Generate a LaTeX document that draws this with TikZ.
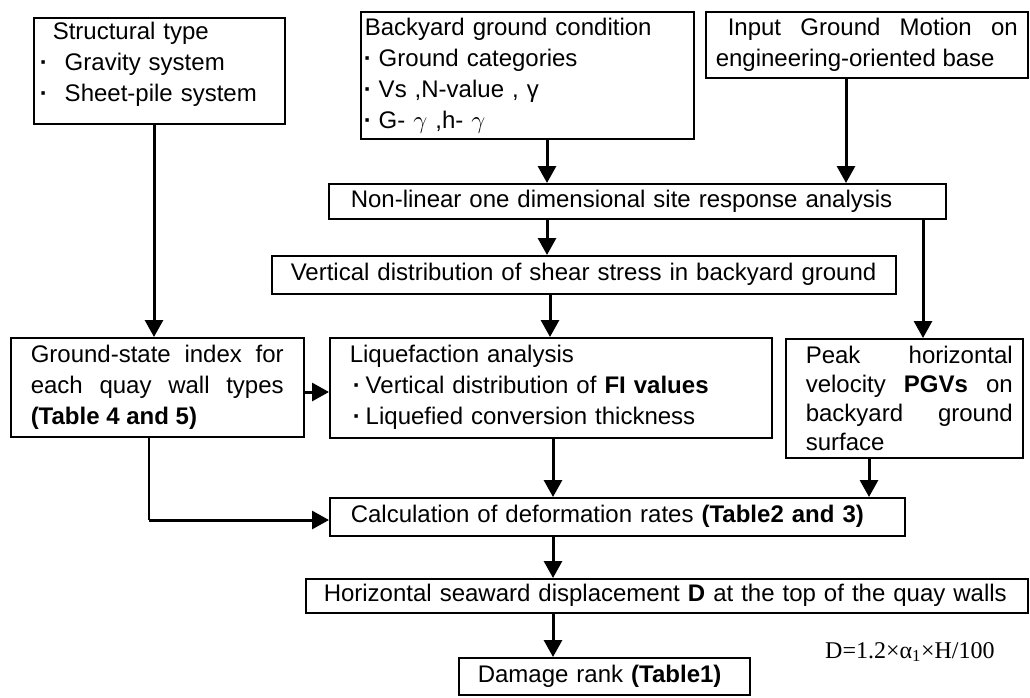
\documentclass[tikz,border=0pt]{standalone}
\usepackage{fontspec}
\setmainfont{Liberation Sans}
\newfontfamily\serif{Liberation Serif}
\usetikzlibrary{arrows.meta}
% bullet: #1 = offset to dot centre, #2 = dot centre to next letter
\newcommand\bul[2]{\hspace*{\dimexpr#1-4pt\relax}{\bfseries ·}\hspace*{\dimexpr#2-4pt\relax}}
\newcommand\justpar{\leftskip=0pt\rightskip=0pt\parfillskip=0pt plus 1fil\relax}
\begin{document}
\begin{tikzpicture}[x=1pt,y=-1pt,
  box/.style={draw, line width=1.5pt, inner sep=0pt, anchor=north west,
    font=\fontsize{24}{31}\selectfont},
  arr/.style={line width=3pt, -{Triangle[length=17pt,width=18pt]}},
  thinline/.style={line width=1.5pt},
  formula/.style={anchor=base west, inner sep=0pt, font=\serif\fontsize{24}{24}\selectfont},
]
\useasboundingbox (0,0) rectangle (1030,697);

% boxes
\node[box, minimum width=251pt, minimum height=106pt, text width=251pt, align=left] (st) at (33,17)
  {\hspace*{19pt}Structural type\\ \bul{10pt}{21pt}Gravity system\\ \bul{10pt}{21pt}Sheet-pile system\rule[-17pt]{0pt}{1pt}};
\node[box, minimum width=333pt, minimum height=127pt, text width=333pt, align=left] (bg) at (360,11)
  {\hspace*{4pt}Backyard ground condition\\ \bul{7pt}{11pt}Ground categories\\ \bul{7pt}{11pt}Vs ,N-value , γ\\ \bul{7pt}{11pt}G- $\gamma$ ,h- $\gamma$};
\node[box, minimum width=322pt, minimum height=66pt, inner xsep=10pt, text width=302pt, align=justify] (ig) at (705,11)
  {\hspace*{12pt}Input Ground Motion on\linebreak engineering-oriented base};
\node[box, minimum width=617pt, minimum height=35pt, inner xsep=22pt, text width=573pt, align=left] (nl) at (328,183)
  {\mbox{Non-linear one dimensional site response analysis}};
\node[box, minimum width=624pt, minimum height=38pt, inner xsep=19pt, text width=586pt, align=left] (vd) at (271,255)
  {\mbox{Vertical distribution of shear stress in backyard ground}};
\node[box, minimum width=293pt, minimum height=99pt, inner xsep=20pt, text width=253pt, align=justify] (gs) at (10,337)
  {Ground-state index for\linebreak each quay wall types\linebreak \textbf{(Table 4 and 5)}};
\node[box, minimum width=442pt, minimum height=100pt, text width=442pt, align=left] (liq) at (329,337)
  {\hspace*{20pt}Liquefaction analysis\\ \bul{27pt}{9pt}Vertical distribution of \textbf{FI values}\\ \bul{27pt}{9pt}Liquefied conversion thickness};
\node[box, minimum width=237pt, minimum height=119pt, text width=237pt, align=justify,
  font=\fontsize{24}{29}\selectfont] (pk) at (785,338)
  {\hspace*{20pt}\parbox[c]{207pt}{\fontsize{24}{29}\selectfont\justpar Peak horizontal\linebreak velocity \textbf{PGVs} on\linebreak backyard ground\linebreak surface}};
\node[box, minimum width=575pt, minimum height=38pt, inner xsep=21pt, text width=533pt, align=left] (calc) at (329,497)
  {\mbox{Calculation of deformation rates \textbf{(Table2 and 3)}}};
\node[box, minimum width=722pt, minimum height=34pt, inner xsep=18pt, text width=686pt, align=left] (hz) at (305,578)
  {\mbox{Horizontal seaward displacement \textbf{D} at the top of the quay walls}};
\node[box, minimum width=291pt, minimum height=37pt, inner xsep=19pt, text width=253pt, align=left] (dmg) at (458,657)
  {\mbox{Damage rank \textbf{(Table1)}}};
\node[formula] (fm) at (825,658) {D=1.2×α\textsubscript{1}×H/100};

% connector columns
\coordinate (c1) at (154,0);
\coordinate (c2) at (547,0);
\coordinate (c3) at (846,0);
\coordinate (c4) at (923,0);
\coordinate (c5) at (550,0);
\coordinate (c6) at (553,0);
\coordinate (c7) at (869,0);
\coordinate (r1) at (0,392);
\coordinate (k) at (149,520);

\draw[arr] (st.south -| c1) -- (gs.north -| c1);
\draw[arr] (bg.south -| c2) -- (nl.north -| c2);
\draw[arr] (ig.south -| c3) -- (nl.north -| c3);
\draw[arr] (nl.south -| c2) -- (vd.north -| c2);
\draw[arr] (nl.south -| c4) -- (pk.north -| c4);
\draw[arr] (vd.south -| c5) -- (liq.north -| c5);
\draw[arr] (gs.east |- r1) -- (liq.west |- r1);
\draw[arr] (liq.south -| c6) -- (calc.north -| c6);
\draw[arr] (pk.south -| c7) -- (calc.north -| c7);
\draw[thinline] (gs.south -| k) -- (k);
\draw[arr] (k) -- (calc.west |- k);
\draw[arr] (calc.south -| c6) -- (hz.north -| c6);
\draw[arr] (hz.south -| c6) -- (dmg.north -| c6);
\end{tikzpicture}
\end{document}
